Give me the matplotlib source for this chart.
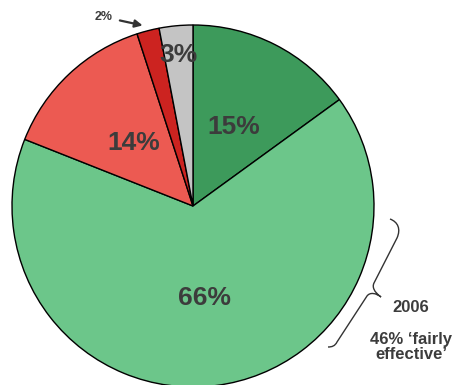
import numpy as np
import matplotlib
matplotlib.use("Agg")
import matplotlib.pyplot as plt
from matplotlib.path import Path
from matplotlib.patches import PathPatch

# Share of responses, clockwise from 12 o'clock
labels = ["15%", "66%", "14%", "2%", "3%"]
values = [15, 66, 14, 2, 3]
colors = ["#3d9a5b", "#6cc68a", "#ec5a52", "#cc2320", "#c4c4c4"]
label_dist = [0.49, 0.51, 0.48, None, 0.84]

note_year = "2006"
note_text = "46% \u2018fairly\neffective\u2019"

W, H = 459, 385
fig = plt.figure(figsize=(W / 100, H / 100), dpi=100)
ax = fig.add_axes([0, 0, 1, 1])

def P(x, y):
    """Pixel position (top-left origin) to axes data coordinates."""
    return x, H - y

cx, cy = P(193, 206)
R = 181
wedges, _ = ax.pie(values, startangle=90, counterclock=False, colors=colors,
                   center=(cx, cy), radius=R,
                   wedgeprops=dict(edgecolor="black", linewidth=1.0))
ax.set_xlim(0, W)
ax.set_ylim(0, H)
ax.set_aspect("equal")
ax.axis("off")

txt_color = "#3c3c3c"
font = ["Liberation Sans", "DejaVu Sans"]
for w, lab, d in zip(wedges, labels, label_dist):
    mid = np.deg2rad((w.theta1 + w.theta2) / 2)
    if d is None:
        # small slice: label outside with an arrow to its rim
        tip = (cx + 1.03 * R * np.cos(mid) - 4, cy + 1.03 * R * np.sin(mid))
        ax.annotate(lab, xy=tip, xytext=P(104, 17), ha="center", va="center",
                    fontsize=9, fontweight="bold", color=txt_color, family=font,
                    arrowprops=dict(arrowstyle="-|>,head_length=0.5,head_width=0.25",
                                    color="#333333", lw=1.6,
                                    shrinkA=3, shrinkB=0))
        continue
    ax.text(cx + d * R * np.cos(mid), cy + d * R * np.sin(mid), lab,
            ha="center", va="center", fontsize=19, fontweight="bold",
            color=txt_color, family=font)

# curly brace spanning the lower-right part of the large slice
verts = [P(390, 219),
         P(398, 222), P(401, 229), P(397, 238),
         P(374, 283),
         P(372, 287), P(374, 292), P(381, 297),
         P(376, 293), P(370, 292), P(367, 296),
         P(337, 342),
         P(335, 346), P(332, 347), P(328, 347)]
codes = [Path.MOVETO,
         Path.CURVE4, Path.CURVE4, Path.CURVE4,
         Path.LINETO,
         Path.CURVE4, Path.CURVE4, Path.CURVE4,
         Path.CURVE4, Path.CURVE4, Path.CURVE4,
         Path.LINETO,
         Path.CURVE4, Path.CURVE4, Path.CURVE4]
ax.add_patch(PathPatch(Path(verts, codes), facecolor="none",
                       edgecolor="#333333", lw=1.0))

ax.text(*P(411, 307), note_year, ha="center", va="center", fontsize=12,
        fontweight="bold", color=txt_color, family=font)
ax.text(*P(411, 347), note_text, ha="center", va="center", fontsize=12,
        fontweight="bold", color=txt_color, family=font, linespacing=1.0)

fig.savefig("out.png", dpi=100)
